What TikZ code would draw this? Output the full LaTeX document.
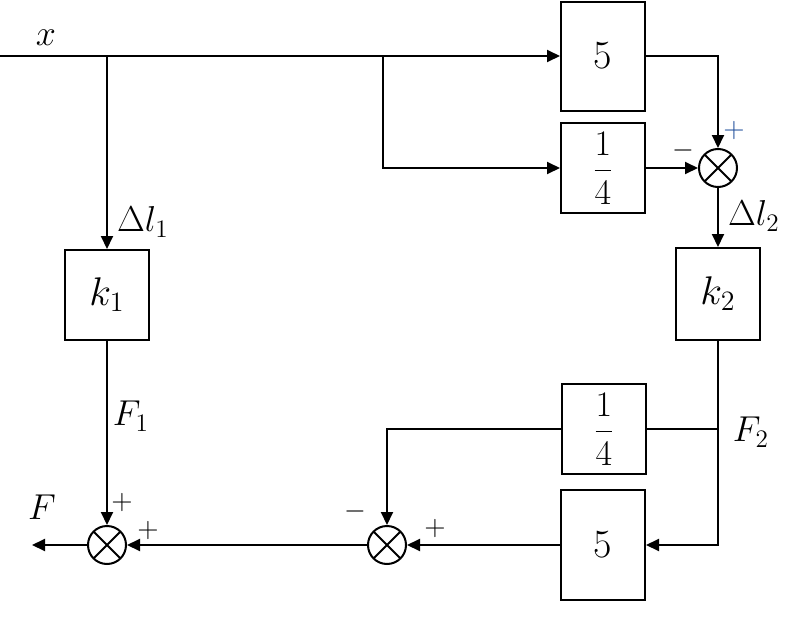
\RequirePackage{fix-cm}
\documentclass[tikz,border=0pt]{standalone}
\usepackage{amsmath}
\usetikzlibrary{arrows.meta,calc}
\definecolor{Ink}{HTML}{000000}
\definecolor{SignBlue}{HTML}{1F4E9A}
\tikzset{block/.style={draw=Ink,line width=1pt,minimum width=42pt,inner sep=0pt,
    font=\fontsize{20}{24}\selectfont,text=Ink},
  fracblock/.style={block,font=\fontsize{18}{22}\selectfont},
  summer/.style={circle,draw=Ink,line width=1pt,minimum size=19pt,inner sep=0pt,
    path picture={\draw[line width=1pt] (path picture bounding box.north west)--(path picture bounding box.south east)
      (path picture bounding box.north east)--(path picture bounding box.south west);}},
  sig/.style={-{Triangle[length=6.5pt,width=6pt]},line width=1pt,draw=Ink},
  wire/.style={line width=1pt,draw=Ink},
  lbl/.style={font=\fontsize{18}{21}\selectfont,inner sep=0pt,text=Ink},
  sign/.style={font=\fontsize{14}{16}\selectfont,inner sep=0pt,text=Ink}}

\begin{document}
\begin{tikzpicture}[x=0.5pt,y=-0.5pt]
  \useasboundingbox (0,0) rectangle (789,627);
  % upper branch
  \coordinate (in) at (0,56);
  \node[block,minimum height=54.5pt] (gainA) at (603,56) {5};
  \node[fracblock,minimum height=45pt] (fracA) at (603,168) {$\dfrac{1}{4}$};
  \node[summer] (sumA) at (718,168) {};
  \node[block,minimum height=46pt] (springB) at (718,294) {$k_2$};
  \node[block,minimum height=45pt] (springA) at (107,295) {$k_1$};
  \coordinate (tapA) at (springA.north |- in);
  \coordinate (tapB) at (383,56);
  \draw[sig] (in) -- (gainA.west);
  \draw[sig] (tapA) -- (springA.north);
  \draw[sig] (tapB) |- (fracA.west);
  \draw[sig] (gainA.east) -| (sumA.north);
  \draw[sig] (fracA.east) -- (sumA.west);
  \draw[sig] (sumA.south) -- (springB.north);
  % lower branch
  \node[fracblock,minimum height=45pt] (fracB) at (604,429) {$\dfrac{1}{4}$};
  \node[block,minimum height=55pt] (gainB) at (603,545) {5};
  \node[summer] (sumB) at (387,545) {};
  \node[summer] (sumC) at (107,545) {};
  \coordinate (out) at (32,545);
  \coordinate (tapC) at (springB.south |- fracB.east);
  \draw[sig] (springB.south) |- (gainB.east);
  \draw[wire] (tapC) -- (fracB.east);
  \draw[sig] (fracB.west) -| (sumB.north);
  \draw[sig] (gainB.west) -- (sumB.east);
  \draw[sig] (sumB.west) -- (sumC.east);
  \draw[sig] (springA.south) -- (sumC.north);
  \draw[sig] (sumC.west) -- (out);
  % signal labels
  \node[lbl] (lblX) at (46,38) {$x$};
  \node[lbl] (lblDlA) at (143,222) {$\Delta l_1$};
  \node[lbl] (lblDlB) at (754,216) {$\Delta l_2$};
  \node[lbl] (lblFA) at (131,416) {$F_1$};
  \node[lbl] (lblFB) at (751,432) {$F_2$};
  \node[lbl] (lblF) at (42,507) {$F$};
  % signs
  \node[sign,text=SignBlue] (sgnA) at (734,130) {$+$};
  \node[sign] (sgnB) at (683,150) {$-$};
  \node[sign] (sgnC) at (355,511) {$-$};
  \node[sign] (sgnD) at (435,528) {$+$};
  \node[sign] (sgnE) at (122,502) {$+$};
  \node[sign] (sgnF) at (148,530) {$+$};
\end{tikzpicture}
\end{document}
